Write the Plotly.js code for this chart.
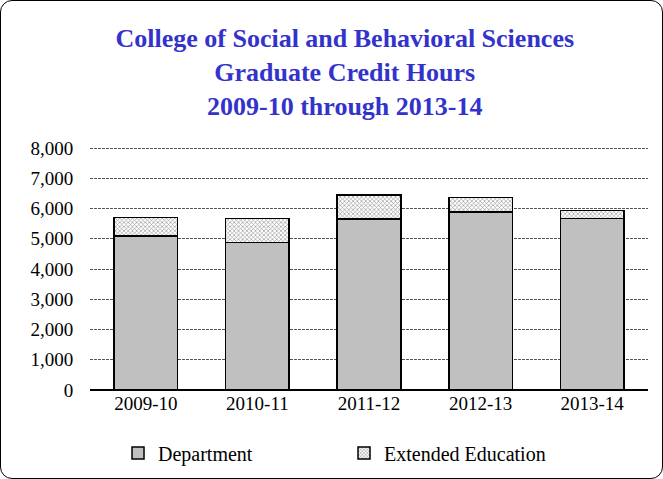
<!DOCTYPE html>
<html>
<head>
<meta charset="utf-8">
<script src="https://cdn.plot.ly/plotly-3.0.1.min.js"></script>
<style>
  html, body { margin: 0; padding: 0; background: #fff; }
  #wrap { position: relative; width: 663px; height: 479px; }
  #chart { position: absolute; left: 0; top: 0; width: 663px; height: 479px; }
  #frame { position: absolute; left: 0; top: 0; width: 661px; height: 477px;
           border: 1px solid #000; border-radius: 12px; pointer-events: none; }
</style>
</head>
<body>
<div id="wrap"><div id="chart"></div><div id="frame"></div></div>
<script>
const categories = ["2009-10", "2010-11", "2011-12", "2012-13", "2013-14"];
const department = [5100, 4880, 5650, 5895, 5680];
const extendedEducation = [600, 800, 800, 465, 260];
const yTickVals = [0, 1000, 2000, 3000, 4000, 5000, 6000, 7000, 8000];
const yTickText = ["0", "1,000", "2,000", "3,000", "4,000", "5,000", "6,000", "7,000", "8,000"];

const serif = "Liberation Serif, Times New Roman, serif";

const traces = [
  {
    type: "bar", name: "Department", x: categories, y: department,
    marker: { color: "#C0C0C0", line: { color: "#000", width: 1.5 } },
    width: 0.57
  },
  {
    type: "bar", name: "Extended Education", x: categories, y: extendedEducation,
    marker: { color: "#fff", line: { color: "#000", width: 1.5 },
              pattern: { shape: "x", size: 3, fgcolor: "#999", bgcolor: "#fff", solidity: 0.4 } },
    width: 0.57
  }
];

const layout = {
  width: 663, height: 479,
  barmode: "stack",
  paper_bgcolor: "rgba(0,0,0,0)", plot_bgcolor: "rgba(0,0,0,0)",
  margin: { l: 90, r: 15, t: 146, b: 89 },
  font: { family: serif, color: "#000" },
  title: {
    text: "<b>College of Social and Behavioral Sciences<br>Graduate Credit Hours<br>2009-10 through 2013-14</b>",
    font: { family: serif, size: 26, color: "#3333CC" },
    x: 0.52, xanchor: "center", y: 1 - 47 / 479, yanchor: "middle", yref: "container"
  },
  xaxis: {
    type: "category",
    tickfont: { family: serif, size: 19, color: "#000" },
    showline: false, ticks: "", showgrid: false, zeroline: false
  },
  yaxis: {
    range: [0, 8070], tickvals: yTickVals, ticktext: yTickText,
    tickfont: { family: serif, size: 19, color: "#000" },
    showgrid: true, gridcolor: "#555", gridwidth: 1, griddash: "3px,1px",
    zeroline: true, zerolinecolor: "#000", zerolinewidth: 1.5,
    showline: false, ticks: "outside", ticklen: 12, tickcolor: "rgba(0,0,0,0)"
  },
  showlegend: true,
  legend: {
    orientation: "h", x: 0.178, xanchor: "left", xref: "container",
    y: 1 - 453 / 479, yanchor: "middle", yref: "container",
    font: { family: serif, size: 20, color: "#000" },
    entrywidth: 181, itemwidth: 30, traceorder: "normal"
  }
};

Plotly.newPlot("chart", traces, layout, { displayModeBar: false, staticPlot: true });
</script>
</body>
</html>
